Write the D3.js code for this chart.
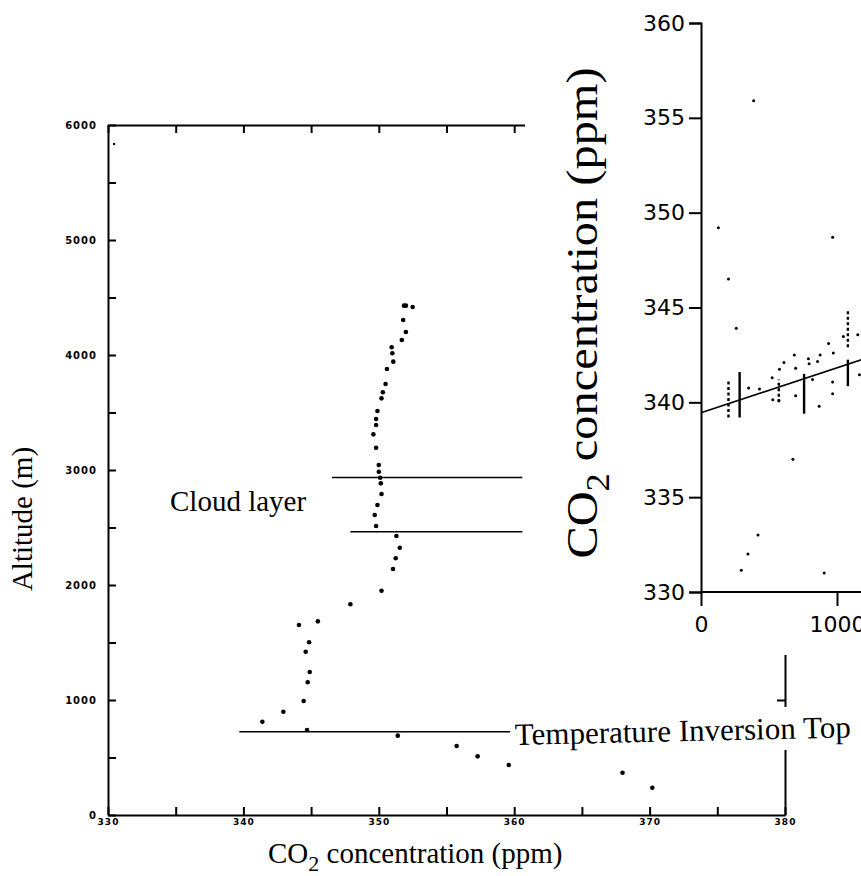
<!DOCTYPE html>
<html>
<head>
<meta charset="utf-8">
<script src="https://d3js.org/d3.v7.min.js"></script>
<style>
  body { margin: 0; background: #fff; }
  .serif { font-family: "Liberation Serif", "Times New Roman", serif; fill: #000; }
  .tick text { font-family: "DejaVu Sans", sans-serif; }
</style>
</head>
<body>
<script>
// left plot: altitude profile, [CO2 ppm, altitude m]
let profile = [
  [330.45, 5835],
  [351.86, 4429], [352.0, 4429], [352.5, 4417], [351.8, 4304], [352.0, 4200],
  [351.7, 4130], [350.95, 4067], [351.0, 4015], [351.07, 3942], [350.6, 3878],
  [350.5, 3748], [350.3, 3676], [350.2, 3623], [349.9, 3513], [349.8, 3443],
  [349.8, 3391], [349.6, 3310], [349.8, 3194], [350.0, 3043], [350.0, 2985],
  [350.1, 2933], [350.15, 2884], [350.2, 2791], [349.9, 2696], [349.7, 2609],
  [349.8, 2513], [351.3, 2426], [351.55, 2324], [351.25, 2232], [351.05, 2139],
  [350.2, 1950], [347.9, 1832], [345.5, 1684], [344.1, 1652], [344.85, 1502],
  [344.6, 1420], [344.9, 1243], [344.75, 1154], [344.45, 991], [342.95, 898],
  [341.4, 811], [344.7, 739], [351.4, 690], [355.75, 600], [357.3, 510],
  [359.6, 435], [368.0, 368], [370.2, 237]
];
// horizontal marker lines: [ppm from, ppm to, altitude]
let cloudLines = [[346.55, 360.6, 2935], [347.9, 360.6, 2463]];
let inversionLine = [339.7, 359.7, 724];
let altTicks = d3.range(0, 6001, 500);
let ppmTicks = d3.range(330, 381, 5);

// inset: CO2 vs distance
let insetPoints = [
  [259, 343.9], [350, 340.75], [430, 340.7], [523, 341.3], [577, 341.75],
  [610, 342.1], [686, 342.5], [696, 341.8], [790, 342.3], [795, 342.03],
  [876, 342.5], [857, 342.15], [938, 343.1], [973, 342.6], [820, 341.2],
  [968, 341.07], [968, 340.45], [869, 339.8], [696, 340.35], [528, 340.13],
  [573, 340.1], [1047, 343.47], [1153, 343.56], [1165, 341.45],
  [676, 337.0], [419, 333.0], [345, 332.0], [296, 331.15], [906, 331.0],
  [387, 355.9], [968, 348.7], [202, 346.5], [128, 349.2]
];
// stacked readings shown as columns: [distance, ppm low, ppm high]
let solidColumns = [[284, 339.2, 341.6], [758, 339.4, 341.5], [1080, 340.85, 342.25]];
let dottedColumns = [[202, 339.2, 341.2], [1080, 342.9, 344.9], [572, 340.0, 341.2]];
let fitX = [0, 1180];
let fitY = [339.45, 342.25];
let insetYTicks = [330, 335, 340, 345, 350, 355, 360];
let insetXTicks = [0, 1000];

let width = 861, height = 876;
let svg = d3.select("body").append("svg")
  .attr("width", width).attr("height", height);

// ---------- left plot ----------
let x = d3.scaleLinear().domain([330, 380]).range([108, 785]);
let y = d3.scaleLinear().domain([0, 6000]).range([815, 125]);

let bold = function (d) { return (d % 1000 === 0) ? d : ""; };

let gLeft = svg.append("g").attr("transform", "translate(108,0)")
  .call(d3.axisLeft(y).tickValues(altTicks).tickSizeInner(-8).tickSizeOuter(0)
    .tickPadding(11).tickFormat(bold));
let gRight = svg.append("g").attr("transform", "translate(785,0)")
  .call(d3.axisRight(y).tickValues([1000, 2000, 3000, 4000, 5000]).tickSizeInner(-8)
    .tickSizeOuter(0).tickFormat(""));
let gBottom = svg.append("g").attr("transform", "translate(0,815)")
  .call(d3.axisBottom(x).tickValues(ppmTicks).tickSizeInner(-8).tickSizeOuter(0)
    .tickPadding(4).tickFormat(function (d) { return d % 10 === 0 ? d : ""; }));
let gTop = svg.append("g").attr("transform", "translate(0,125)")
  .call(d3.axisTop(x).tickValues(ppmTicks).tickSizeInner(-8).tickSizeOuter(0).tickFormat(""));

[gLeft, gRight, gBottom, gTop].forEach(function (g) {
  g.select(".domain").attr("stroke-width", 2);
  g.selectAll(".tick line").attr("stroke-width", 2);
});
gLeft.selectAll(".tick text").attr("font-size", 10).attr("font-weight", 900)
  .attr("letter-spacing", 1);
gBottom.selectAll(".tick text").attr("font-size", 9).attr("font-weight", 900)
  .attr("letter-spacing", 1);

svg.selectAll("line.cloud").data(cloudLines).enter().append("line")
  .attr("class", "cloud")
  .attr("x1", function (d) { return x(d[0]); })
  .attr("x2", function (d) { return x(d[1]); })
  .attr("y1", function (d) { return y(d[2]); })
  .attr("y2", function (d) { return y(d[2]); })
  .attr("stroke", "#000").attr("stroke-width", 1.6);

svg.append("line")
  .attr("x1", x(inversionLine[0])).attr("x2", x(inversionLine[1]))
  .attr("y1", y(inversionLine[2])).attr("y2", y(inversionLine[2]))
  .attr("stroke", "#000").attr("stroke-width", 1.6);

svg.selectAll("circle.prof").data(profile).enter().append("circle")
  .attr("class", "prof")
  .attr("cx", function (d) { return x(d[0]); })
  .attr("cy", function (d) { return y(d[1]); })
  .attr("r", function (d, i) { return i === 0 ? 1.2 : 2.3; })
  .attr("fill", "#000");

svg.append("text").attr("class", "serif")
  .attr("transform", "translate(32,519) rotate(-90)")
  .attr("text-anchor", "middle").attr("font-size", 29)
  .text("Altitude (m)");

svg.append("text").attr("class", "serif")
  .attr("x", 170).attr("y", 511).attr("font-size", 29)
  .text("Cloud layer");

let xl = svg.append("text").attr("class", "serif")
  .attr("x", 268).attr("y", 863).attr("font-size", 29);
xl.append("tspan").text("CO");
xl.append("tspan").attr("dy", 8).attr("font-size", 22).text("2");
xl.append("tspan").attr("dy", -8).text(" concentration (ppm)");

// ---------- inset ----------
svg.append("rect").attr("x", 525).attr("y", 0).attr("width", 336).attr("height", 655)
  .attr("fill", "#fff");

let ix = d3.scaleLinear().domain([0, 1000]).range([701, 837]);
let iy = d3.scaleLinear().domain([330, 360]).range([592, 23]);

let giy = svg.append("g").attr("transform", "translate(701,0)")
  .call(d3.axisLeft(iy).tickValues(insetYTicks).tickSize(12).tickPadding(4));
let gix = svg.append("g").attr("transform", "translate(0,592)")
  .call(d3.axisBottom(ix).tickValues(insetXTicks).tickSize(14).tickPadding(6)
    .tickFormat(d3.format("d")));
gix.select(".domain").attr("d", "M701,0H861");
[giy, gix].forEach(function (g) {
  g.select(".domain").attr("stroke-width", 2);
  g.selectAll(".tick line").attr("stroke-width", 2);
  g.selectAll(".tick text").attr("font-size", 22).attr("fill", "#000");
});
gix.selectAll(".tick text").attr("dy", "0.9em");

// scanned label is stretched along its length
let il = svg.append("text").attr("class", "serif")
  .attr("transform", "translate(597,313) rotate(-90) scale(1.1,1)")
  .attr("text-anchor", "middle").attr("font-size", 44);
il.append("tspan").text("CO");
il.append("tspan").attr("dy", 12).attr("font-size", 33).text("2");
il.append("tspan").attr("dy", -12).text(" concentration (ppm)");

svg.append("line")
  .attr("x1", ix(fitX[0])).attr("y1", iy(fitY[0]))
  .attr("x2", ix(fitX[1])).attr("y2", iy(fitY[1]))
  .attr("stroke", "#000").attr("stroke-width", 1.6);

svg.selectAll("line.scol").data(solidColumns).enter().append("line")
  .attr("class", "scol")
  .attr("x1", function (d) { return ix(d[0]); }).attr("x2", function (d) { return ix(d[0]); })
  .attr("y1", function (d) { return iy(d[1]); }).attr("y2", function (d) { return iy(d[2]); })
  .attr("stroke", "#000").attr("stroke-width", 2.4);

svg.selectAll("line.dcol").data(dottedColumns).enter().append("line")
  .attr("class", "dcol")
  .attr("x1", function (d) { return ix(d[0]); }).attr("x2", function (d) { return ix(d[0]); })
  .attr("y1", function (d) { return iy(d[1]); }).attr("y2", function (d) { return iy(d[2]); })
  .attr("stroke", "#000").attr("stroke-width", 2.4).attr("stroke-dasharray", "3,2.5");

svg.selectAll("circle.ipt").data(insetPoints).enter().append("circle")
  .attr("class", "ipt")
  .attr("cx", function (d) { return ix(d[0]); })
  .attr("cy", function (d) { return iy(d[1]); })
  .attr("r", 1.5).attr("fill", "#000");

// label over the left plot's right frame
let tg = svg.append("g").attr("transform", "translate(515,745) rotate(-1.3)");
let tt = tg.append("text").attr("class", "serif").attr("font-size", 31)
  .text("Temperature Inversion Top");
let bb = tt.node().getBBox();
tg.insert("rect", "text").attr("x", bb.x).attr("y", bb.y - 4)
  .attr("width", bb.width + 4).attr("height", bb.height + 8).attr("fill", "#fff");
</script>
</body>
</html>
